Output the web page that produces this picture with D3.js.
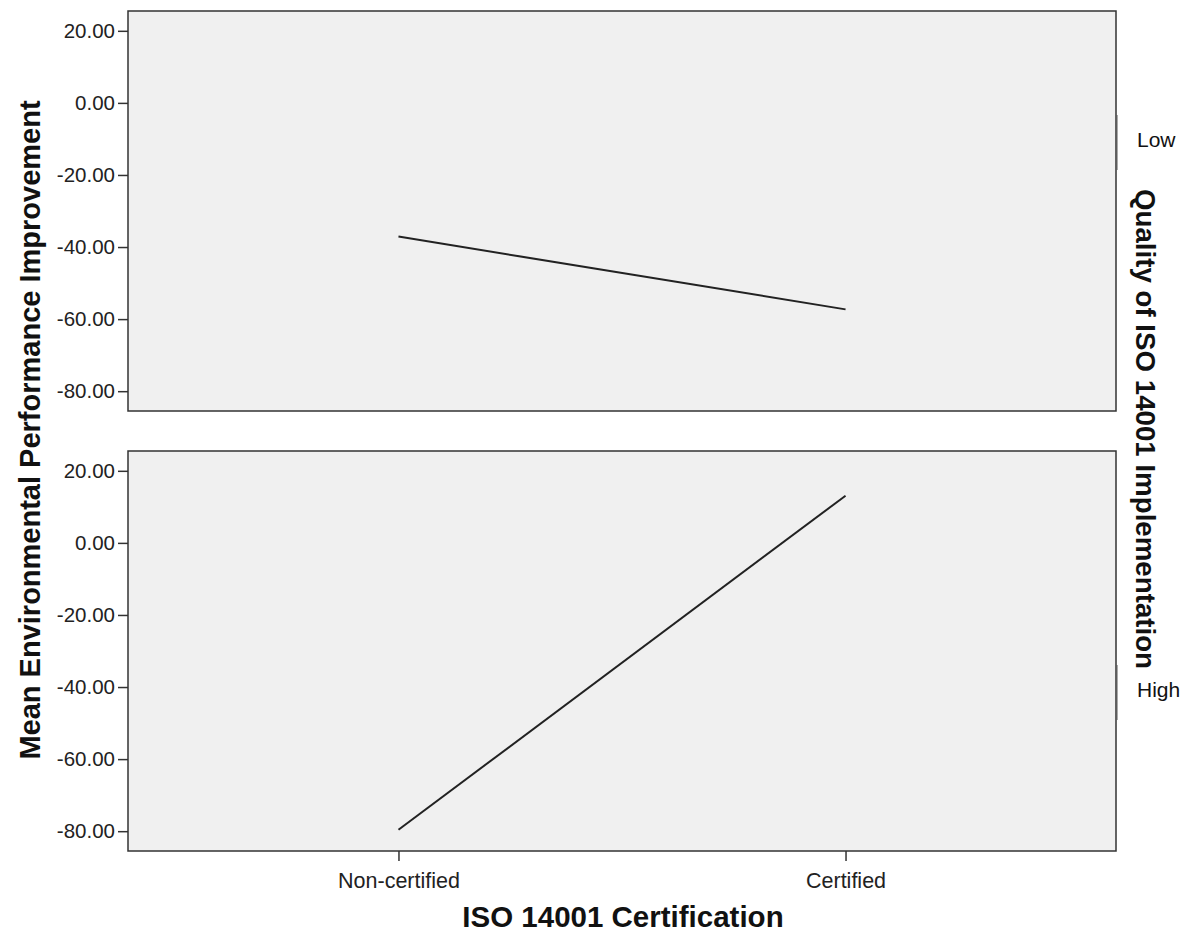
<!DOCTYPE html>
<html>
<head>
<meta charset="utf-8">
<script src="https://cdn.jsdelivr.net/npm/d3@7"></script>
<style>
  body { margin: 0; background: #fff; }
  svg { display: block; font-family: "Liberation Sans", Arial, sans-serif; }
</style>
</head>
<body>
<div id="chart"></div>
<script>
// Data
var certification = ["Non-certified", "Certified"];
var quality = ["Low", "High"];
var lowValues = [-37.1, -57.3];
var highValues = [-79.6, 13.1];
var yTicks = [20, 0, -20, -40, -60, -80];

var width = 1191, height = 940;
var left = 128, right = 1116;
var panels = [
    { label: quality[0], values: lowValues, top: 11, bottom: 411, mid: 140 },
    { label: quality[1], values: highValues, top: 451, bottom: 851, mid: 690 }
];

var svg = d3.select("#chart").append("svg")
    .attr("width", width)
    .attr("height", height);

// X scale shared by both panels
var x = d3.scalePoint()
    .domain(certification)
    .range([left, right])
    .padding(0.605);

panels.forEach(function (p, k) {
    var y = d3.scaleLinear()
        .domain([-85.5, 25.5])
        .range([p.bottom, p.top]);

    var g = svg.append("g");

    // panel background
    g.append("rect")
        .attr("x", left)
        .attr("y", p.top)
        .attr("width", right - left)
        .attr("height", p.bottom - p.top)
        .attr("fill", "#f0f0f0")
        .attr("stroke", "#333")
        .attr("stroke-width", 1.5);

    // Y axis
    var yAxis = g.append("g")
        .attr("transform", "translate(" + left + ",0)")
        .call(d3.axisLeft(y).tickValues(yTicks)
            .tickFormat(function (d) { return d.toFixed(2); })
            .tickSize(10).tickSizeOuter(0));
    yAxis.select(".domain").remove();
    yAxis.selectAll("line").attr("stroke", "#333").attr("stroke-width", 1.5);
    yAxis.selectAll("text")
        .attr("x", -13)
        .attr("fill", "#222")
        .style("font-size", "20.5px")
        .style("font-family", "Liberation Sans, Arial, sans-serif");

    // line for the panel
    var line = d3.line()
        .x(function (d, i) { return x(certification[i]); })
        .y(function (d) { return y(d); });

    g.append("path")
        .datum(p.values)
        .attr("d", line)
        .attr("fill", "none")
        .attr("stroke", "#222")
        .attr("stroke-width", 2);

    // facet label on the right
    g.append("line")
        .attr("x1", right + 1).attr("x2", right + 1)
        .attr("y1", p.mid - 25).attr("y2", p.mid + 30)
        .attr("stroke", "#555")
        .attr("stroke-width", 1);

    g.append("text")
        .attr("x", 1137)
        .attr("y", p.mid + 7)
        .attr("fill", "#111")
        .style("font-size", "21px")
        .text(p.label);

    // X axis only under the bottom panel
    if (k === panels.length - 1) {
        var xAxis = g.append("g")
            .attr("transform", "translate(0," + p.bottom + ")")
            .call(d3.axisBottom(x).tickSize(10).tickSizeOuter(0));
        xAxis.select(".domain").remove();
        xAxis.selectAll("line").attr("stroke", "#333").attr("stroke-width", 1.5);
        xAxis.selectAll("text")
            .attr("y", 22)
            .attr("fill", "#222")
            .style("font-size", "21.5px")
            .style("font-family", "Liberation Sans, Arial, sans-serif");
    }
});

// Axis titles
svg.append("text")
    .attr("x", 623)
    .attr("y", 927)
    .attr("text-anchor", "middle")
    .style("font-size", "29.5px")
    .style("font-weight", "bold")
    .attr("fill", "#111")
    .text("ISO 14001 Certification");

svg.append("text")
    .attr("transform", "translate(40,430) rotate(-90)")
    .attr("text-anchor", "middle")
    .style("font-size", "29px")
    .style("font-weight", "bold")
    .attr("fill", "#111")
    .text("Mean Environmental Performance Improvement");

svg.append("text")
    .attr("transform", "translate(1136,429) rotate(90)")
    .attr("text-anchor", "middle")
    .style("font-size", "27.7px")
    .style("font-weight", "bold")
    .attr("fill", "#111")
    .text("Quality of ISO 14001 Implementation");
</script>
</body>
</html>
